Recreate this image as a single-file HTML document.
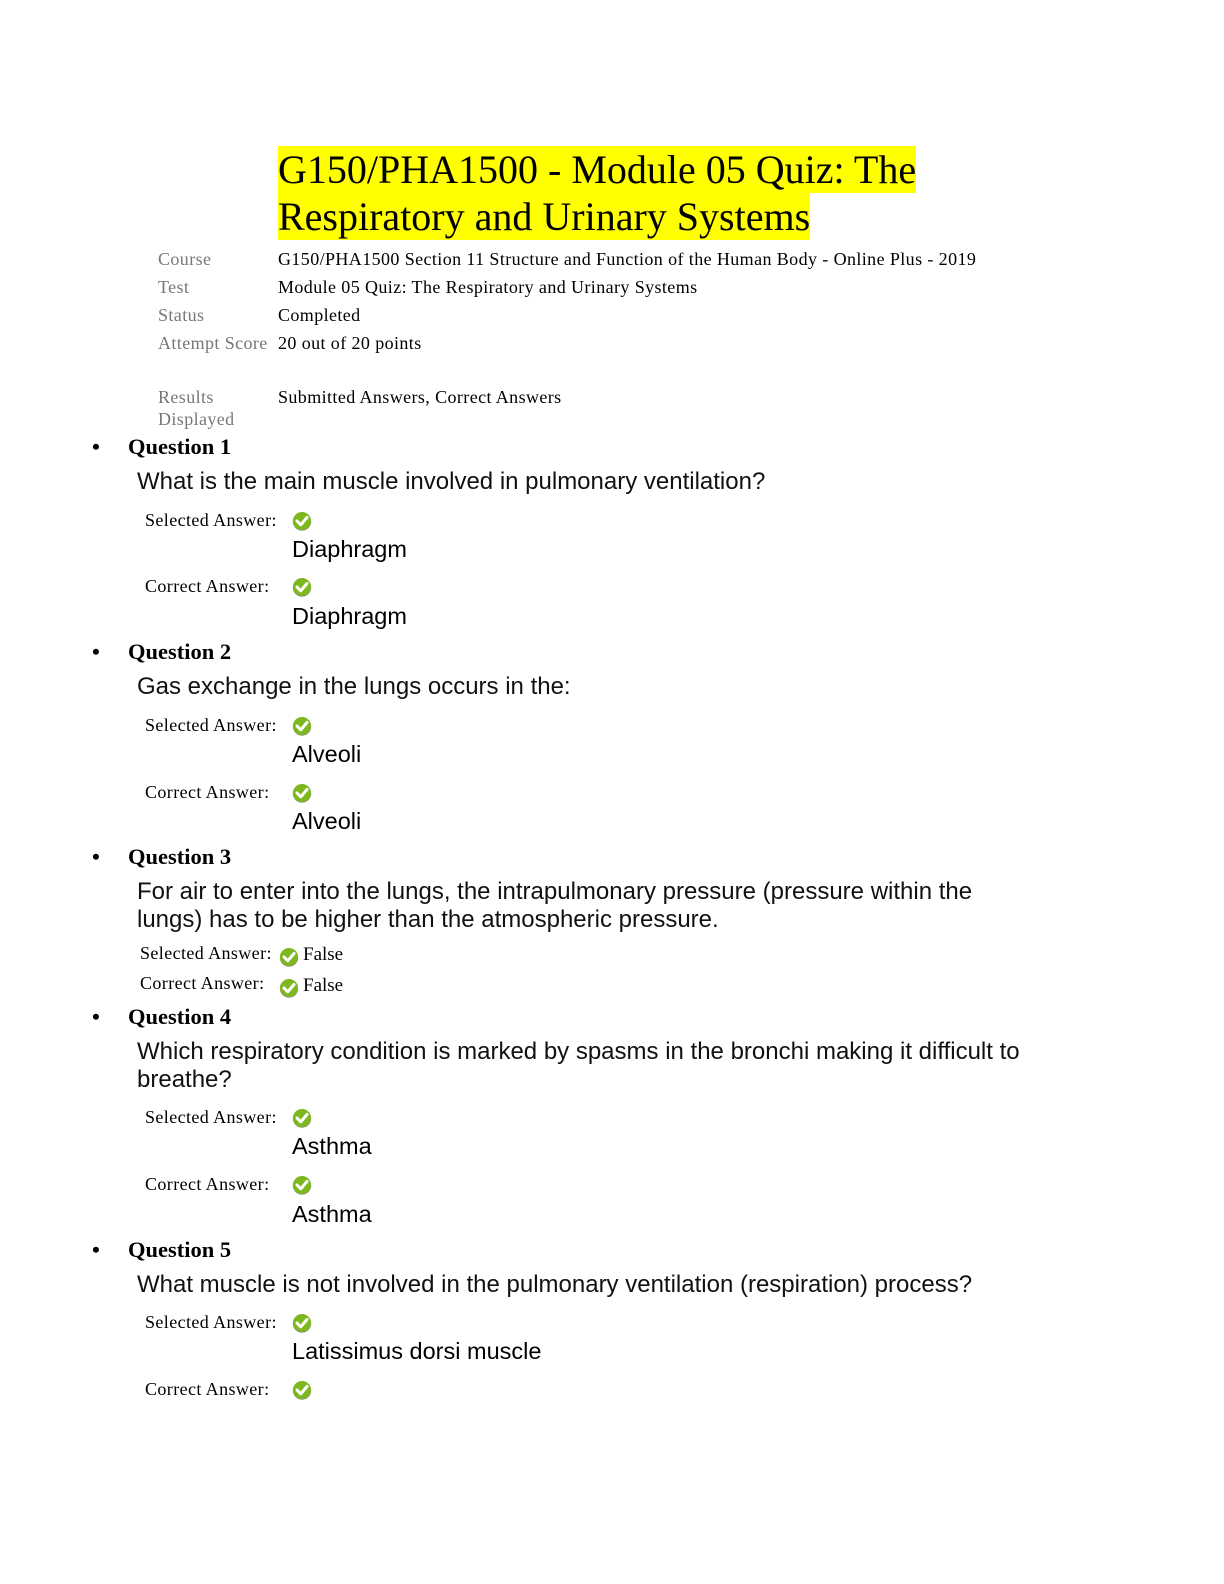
<!DOCTYPE html>
<html><head><meta charset="utf-8"><style>
body{margin:0;width:1224px;height:1584px;background:#fff;position:relative;overflow:hidden}
.a{position:absolute;white-space:nowrap}
.s{font-family:"Liberation Serif",serif}
.n{font-family:"Liberation Sans",sans-serif}
.m{font-size:18px;line-height:20px;letter-spacing:0.4px}
.g{color:#777}
.h{font-size:22.5px;line-height:24px;font-weight:bold}
.q{font-size:24px;line-height:26px;color:#111}
.b{font-size:23.5px;line-height:24px}
.t{font-family:"Liberation Serif",serif;font-size:40px;line-height:47px;background:#ffff00;color:#000}
</style></head><body>
<div class="a t" style="left:278px;top:146px">G150/PHA1500 - Module 05 Quiz: The</div>
<div class="a t" style="left:278px;top:193px">Respiratory and Urinary Systems</div>

<div class="a s m g" style="left:158px;top:249px">Course</div>
<div class="a s m" style="left:278px;top:249px">G150/PHA1500 Section 11 Structure and Function of the Human Body - Online Plus - 2019</div>
<div class="a s m g" style="left:158px;top:277px">Test</div>
<div class="a s m" style="left:278px;top:277px">Module 05 Quiz: The Respiratory and Urinary Systems</div>
<div class="a s m g" style="left:158px;top:305px">Status</div>
<div class="a s m" style="left:278px;top:305px">Completed</div>
<div class="a s m g" style="left:158px;top:333px">Attempt Score</div>
<div class="a s m" style="left:278px;top:333px">20 out of 20 points</div>
<div class="a s m g" style="left:158px;top:387px">Results</div>
<div class="a s m g" style="left:158px;top:409px">Displayed</div>
<div class="a s m" style="left:278px;top:387px">Submitted Answers, Correct Answers</div>

<svg width="0" height="0" style="position:absolute"><defs><symbol id="ck" viewBox="0 0 20 20"><circle cx="10" cy="10.5" r="9.2" fill="#8a8a8a"/><circle cx="10" cy="10" r="9" fill="#7fb81e"/><path d="M5 10 L8.8 13.8 L15 6.5" stroke="#fff" stroke-width="3" fill="none" stroke-linecap="round" stroke-linejoin="round"/></symbol></defs></svg>

<!-- Q1 -->
<div class="a s h" style="left:92px;top:435px">•</div>
<div class="a s h" style="left:128px;top:435px">Question 1</div>
<div class="a n q" style="left:137px;top:469px">What is the main muscle involved in pulmonary ventilation?</div>
<div class="a s m" style="left:145px;top:510px">Selected Answer:</div>
<svg class="a" style="left:292px;top:511px" width="20" height="20"><use href="#ck"/></svg>
<div class="a n b" style="left:292px;top:537px">Diaphragm</div>
<div class="a s m" style="left:145px;top:576px">Correct Answer:</div>
<svg class="a" style="left:292px;top:577px" width="20" height="20"><use href="#ck"/></svg>
<div class="a n b" style="left:292px;top:604px">Diaphragm</div>

<!-- Q2 -->
<div class="a s h" style="left:92px;top:640px">•</div>
<div class="a s h" style="left:128px;top:640px">Question 2</div>
<div class="a n q" style="left:137px;top:674px">Gas exchange in the lungs occurs in the:</div>
<div class="a s m" style="left:145px;top:715px">Selected Answer:</div>
<svg class="a" style="left:292px;top:716px" width="20" height="20"><use href="#ck"/></svg>
<div class="a n b" style="left:292px;top:742px">Alveoli</div>
<div class="a s m" style="left:145px;top:782px">Correct Answer:</div>
<svg class="a" style="left:292px;top:783px" width="20" height="20"><use href="#ck"/></svg>
<div class="a n b" style="left:292px;top:809px">Alveoli</div>

<!-- Q3 -->
<div class="a s h" style="left:92px;top:845px">•</div>
<div class="a s h" style="left:128px;top:845px">Question 3</div>
<div class="a n q" style="left:137px;top:879px">For air to enter into the lungs, the intrapulmonary pressure (pressure within the</div>
<div class="a n q" style="left:137px;top:907px">lungs) has to be higher than the atmospheric pressure.</div>
<div class="a s m" style="left:140px;top:943px">Selected Answer:</div>
<svg class="a" style="left:279px;top:947px" width="20" height="20"><use href="#ck"/></svg>
<div class="a s m" style="left:303px;top:945px;font-size:19px;letter-spacing:0">False</div>
<div class="a s m" style="left:140px;top:973px">Correct Answer:</div>
<svg class="a" style="left:279px;top:978px" width="20" height="20"><use href="#ck"/></svg>
<div class="a s m" style="left:303px;top:976px;font-size:19px;letter-spacing:0">False</div>

<!-- Q4 -->
<div class="a s h" style="left:92px;top:1005px">•</div>
<div class="a s h" style="left:128px;top:1005px">Question 4</div>
<div class="a n q" style="left:137px;top:1039px">Which respiratory condition is marked by spasms in the bronchi making it difficult to</div>
<div class="a n q" style="left:137px;top:1067px">breathe?</div>
<div class="a s m" style="left:145px;top:1107px">Selected Answer:</div>
<svg class="a" style="left:292px;top:1108px" width="20" height="20"><use href="#ck"/></svg>
<div class="a n b" style="left:292px;top:1134px">Asthma</div>
<div class="a s m" style="left:145px;top:1174px">Correct Answer:</div>
<svg class="a" style="left:292px;top:1175px" width="20" height="20"><use href="#ck"/></svg>
<div class="a n b" style="left:292px;top:1202px">Asthma</div>

<!-- Q5 -->
<div class="a s h" style="left:92px;top:1238px">•</div>
<div class="a s h" style="left:128px;top:1238px">Question 5</div>
<div class="a n q" style="left:137px;top:1272px">What muscle is not involved in the pulmonary ventilation (respiration) process?</div>
<div class="a s m" style="left:145px;top:1312px">Selected Answer:</div>
<svg class="a" style="left:292px;top:1313px" width="20" height="20"><use href="#ck"/></svg>
<div class="a n b" style="left:292px;top:1339px">Latissimus dorsi muscle</div>
<div class="a s m" style="left:145px;top:1379px">Correct Answer:</div>
<svg class="a" style="left:292px;top:1380px" width="20" height="20"><use href="#ck"/></svg>
</body></html>
